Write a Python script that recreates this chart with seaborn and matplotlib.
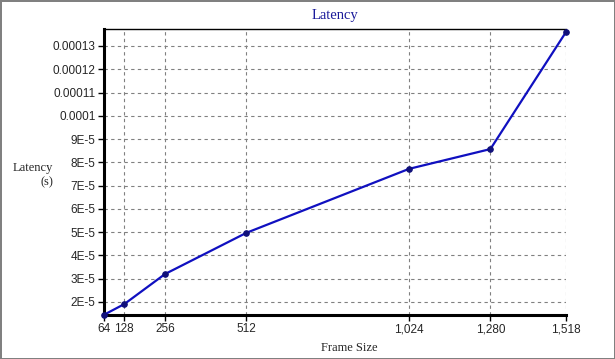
import matplotlib
matplotlib.use("Agg")
import matplotlib.pyplot as plt
import seaborn as sns
import pandas as pd
from matplotlib.ticker import FixedLocator, FixedFormatter

frame_sizes = [64, 128, 256, 512, 1024, 1280, 1518]
latency = [1.45e-5, 1.91e-5, 3.2e-5, 4.97e-5, 7.72e-5, 8.57e-5, 1.36e-4]
x_tick_labels = ["64", "128", "256", "512", "1,024", "1,280", "1,518"]
y_ticks = [2e-5, 3e-5, 4e-5, 5e-5, 6e-5, 7e-5, 8e-5, 9e-5, 1e-4, 1.1e-4, 1.2e-4, 1.3e-4]
y_tick_labels = ["2E-5", "3E-5", "4E-5", "5E-5", "6E-5", "7E-5", "8E-5", "9E-5",
                 "0.0001", "0.00011", "0.00012", "0.00013"]

df = pd.DataFrame({"Frame Size": frame_sizes, "Latency": latency})

sns.set_style("white")
plt.rcParams['font.family'] = ['Liberation Sans', 'DejaVu Sans']

fig = plt.figure(figsize=(6.15, 3.59), dpi=100)
fig.patch.set_edgecolor('#808080')
fig.patch.set_linewidth(2)
ax = fig.add_axes([104/615, 1 - 315/359, (566-104)/615, (315-29)/359])

sns.lineplot(data=df, x="Frame Size", y="Latency", ax=ax, color='#1010C0',
             linewidth=1.6, marker='o', markersize=4, markerfacecolor='#10107A',
             markeredgecolor='#10107A', zorder=5, clip_on=False)

ax.set_xlim(64, 1518)
ax.set_ylim(1.44e-5, 1.373e-4)
ax.xaxis.set_major_locator(FixedLocator(frame_sizes))
ax.xaxis.set_major_formatter(FixedFormatter(x_tick_labels))
ax.yaxis.set_major_locator(FixedLocator(y_ticks))
ax.yaxis.set_major_formatter(FixedFormatter(y_tick_labels))
ax.tick_params(axis='both', labelsize=8.5, length=4, width=1, color='black',
               direction='out', pad=2, left=True, bottom=True)
ax.grid(True, color='#808080', linestyle=(0, (3, 3)), linewidth=0.8)

for s in ['left', 'bottom']:
    ax.spines[s].set_linewidth(2.2)
    ax.spines[s].set_color('black')
ax.spines['top'].set_linewidth(1)
ax.spines['top'].set_color('black')
ax.spines['right'].set_visible(False)

ax.set_xlabel("Frame Size", fontfamily='Liberation Serif', fontsize=9, labelpad=0)
ax.xaxis.set_label_coords(0.53, -0.095)
ax.set_ylabel("")
fig.text(33/615, 1 - 175/359, "Latency\n(s)", fontfamily='Liberation Serif', fontsize=9,
         ha='center', va='center', multialignment='right')
ax.set_title("Latency", fontfamily='Liberation Serif', fontsize=10.5, color='#1A1A9A', pad=7)

fig.savefig("out.png", dpi=100)
